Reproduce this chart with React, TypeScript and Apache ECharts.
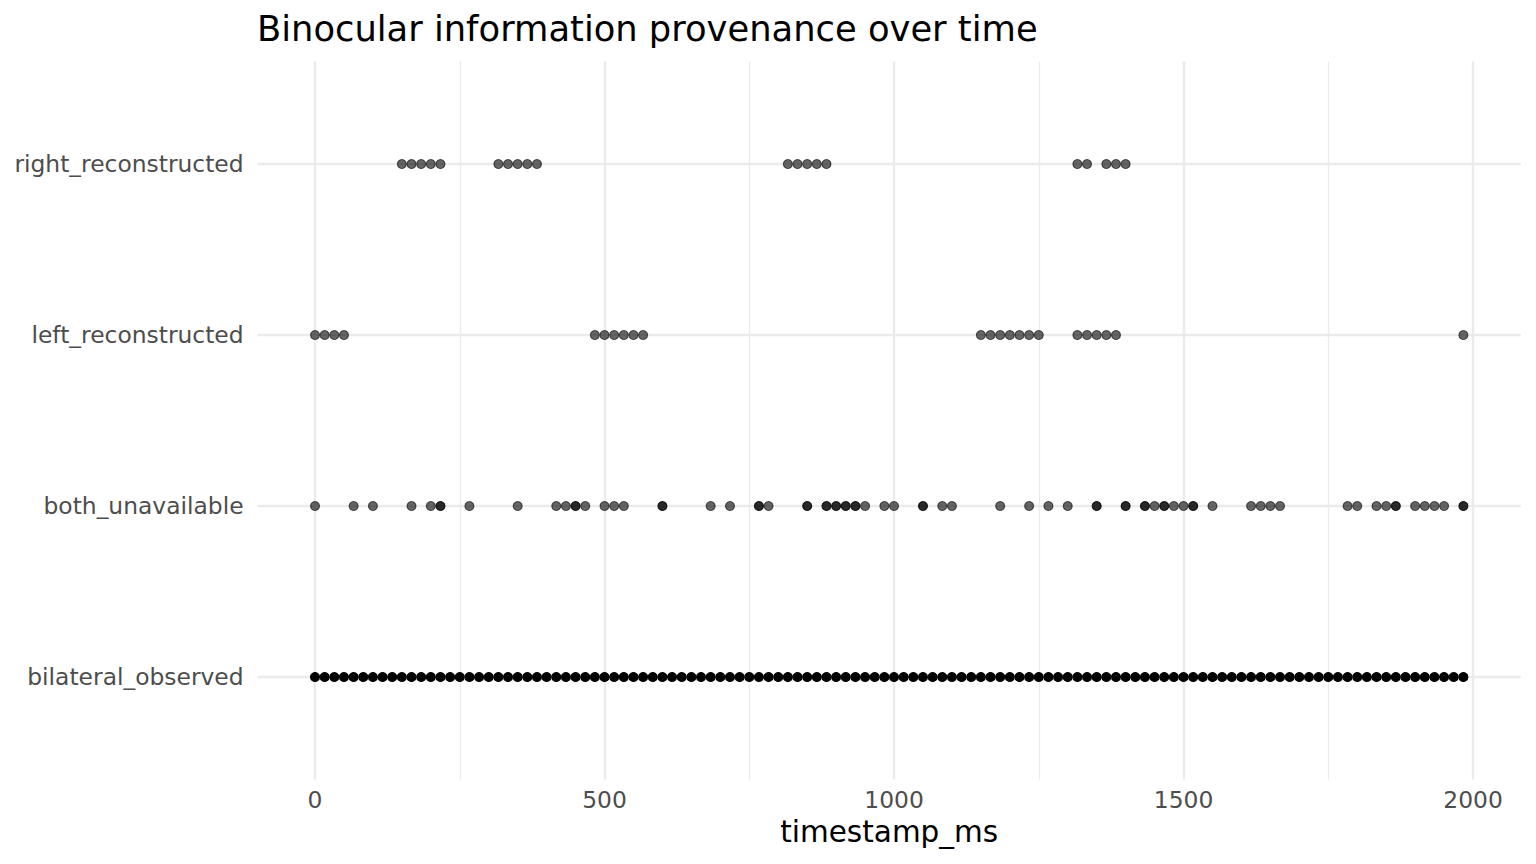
import React, { useEffect, useRef } from "react";
import * as echarts from "echarts";

// Frame duration (60 Hz sampling)
const FRAME_MS = 1000 / 60;

// Categories, bottom to top
const CATEGORIES = [
  "bilateral_observed",
  "both_unavailable",
  "left_reconstructed",
  "right_reconstructed",
];

// Frame indices per provenance class
const BILATERAL_FRAMES = [
  0, 1, 2, 3, 4, 5, 6, 7, 8, 9, 10, 11, 12, 13, 14, 15, 16, 17, 18, 19, 20, 21, 22, 23, 24,
  25, 26, 27, 28, 29, 30, 31, 32, 33, 34, 35, 36, 37, 38, 39, 40, 41, 42, 43, 44, 45, 46, 47,
  48, 49, 50, 51, 52, 53, 54, 55, 56, 57, 58, 59, 60, 61, 62, 63, 64, 65, 66, 67, 68, 69, 70,
  71, 72, 73, 74, 75, 76, 77, 78, 79, 80, 81, 82, 83, 84, 85, 86, 87, 88, 89, 90, 91, 92, 93,
  94, 95, 96, 97, 98, 99, 100, 101, 102, 103, 104, 105, 106, 107, 108, 109, 110, 111, 112,
  113, 114, 115, 116, 117, 118, 119,
];
const BILATERAL_COUNT = 8; // many overlapping observations per frame (appears solid black)

const BOTH_UNAVAILABLE_FRAMES = [
  0, 4, 6, 10, 12, 13, 16, 21, 25, 26, 27, 28, 30, 31, 32, 36, 41, 43, 46, 47, 51, 53, 54, 55,
  56, 57, 59, 60, 63, 65, 66, 71, 74, 76, 78, 81, 84, 86, 87, 88, 89, 90, 91, 93, 97, 98, 99,
  100, 107, 108, 110, 111, 112, 114, 115, 116, 117, 119,
];
const BOTH_UNAVAILABLE_COUNTS = [
  1, 1, 1, 1, 1, 2, 1, 1, 1, 1, 2, 1, 1, 1, 1, 2, 1, 1, 2, 1, 2, 2, 2, 2,
  2, 1, 1, 1, 2, 1, 1, 1, 1, 1, 1, 2, 2, 2, 1, 2, 1, 1, 2, 1, 1, 1, 1,
  1, 1, 1, 1, 1, 2, 1, 1, 1, 1, 2,
];

const LEFT_RECON_FRAMES = [
  0, 1, 2, 3, 29, 30, 31, 32, 33, 34, 69, 70, 71, 72, 73, 74, 75, 79, 80, 81, 82, 83, 119,
];

const RIGHT_RECON_FRAMES = [
  9, 10, 11, 12, 13, 19, 20, 21, 22, 23, 49, 50, 51, 52, 53, 79, 80, 82, 83, 84,
];

const X_MAJOR_TICKS = [0, 500, 1000, 1500, 2000];
const X_MINOR_TICKS = [250, 750, 1250, 1750];
const Y_TICKS = [1, 2, 3, 4];

const FONT = "DejaVu Sans";
const ALPHA = 0.6;

function pointsFor(frames: number[], yIndex: number, counts: number[] | number) {
  return frames.map((f, i) => {
    const n = Array.isArray(counts) ? counts[i] : counts;
    const a = 1 - Math.pow(1 - ALPHA, n);
    return {
      value: [f * FRAME_MS, yIndex + 1],
      itemStyle: {
        color: `rgba(0,0,0,${a.toFixed(3)})`,
        borderColor: `rgba(0,0,0,${a.toFixed(3)})`,
        opacity: 1,
      },
    };
  });
}

export default function App() {
  const ref = useRef<HTMLDivElement>(null);

  useEffect(() => {
    if (!ref.current) return;
    const chart = echarts.init(ref.current, null, { renderer: "svg" });

    const maxT = 119 * FRAME_MS;
    const pad = maxT * 0.05;
    const xMin = -pad;
    const xMax = maxT + pad;

    const scatterCommon = {
      type: "scatter",
      symbol: "circle",
      symbolSize: 9,
      z: 3,
      silent: true,
      itemStyle: { borderWidth: 1.1, opacity: 1 },
    };

    chart.setOption({
      animation: false,
      backgroundColor: "#ffffff",
      title: {
        text: "Binocular information provenance over time",
        left: 257,
        top: 11,
        padding: 0,
        textStyle: {
          fontFamily: FONT,
          fontSize: 35.3,
          fontWeight: "normal",
          color: "#000000",
        },
      },
      grid: {
        left: 257.6,
        right: 15.2,
        top: 61.4,
        bottom: 84.4,
        containLabel: false,
      },
      xAxis: [
        {
          type: "value",
          min: xMin,
          max: xMax,
          position: "bottom",
          name: "timestamp_ms",
          nameLocation: "middle",
          nameGap: 37,
          nameTextStyle: { fontFamily: FONT, fontSize: 29.5, color: "#000000" },
          axisLine: { show: false },
          axisTick: { show: false, customValues: X_MAJOR_TICKS },
          axisLabel: {
            customValues: X_MAJOR_TICKS,
            margin: 9,
            fontFamily: FONT,
            fontSize: 23.4,
            color: "#4d4d4d",
            formatter: (v: number) => String(Math.round(v)),
          },
          splitLine: { show: true, lineStyle: { color: "#ebebeb", width: 2.4 } },
        },
        {
          type: "value",
          min: xMin,
          max: xMax,
          position: "bottom",
          axisLine: { show: false },
          axisTick: { show: false, customValues: X_MINOR_TICKS },
          axisLabel: { show: false, customValues: X_MINOR_TICKS },
          splitLine: { show: true, lineStyle: { color: "#ebebeb", width: 1.3 } },
        },
      ],
      yAxis: {
        type: "value",
        min: 0.4,
        max: 4.6,
        axisLine: { show: false },
        axisTick: { show: false, customValues: Y_TICKS },
        axisLabel: {
          customValues: Y_TICKS,
          margin: 14,
          fontFamily: FONT,
          fontSize: 23.4,
          color: "#4d4d4d",
          formatter: (v: number) => CATEGORIES[Math.round(v) - 1] ?? "",
        },
        splitLine: { show: true, lineStyle: { color: "#ebebeb", width: 2.4 } },
      },
      series: [
        { ...scatterCommon, name: CATEGORIES[0], data: pointsFor(BILATERAL_FRAMES, 0, BILATERAL_COUNT) },
        {
          ...scatterCommon,
          name: CATEGORIES[1],
          data: pointsFor(BOTH_UNAVAILABLE_FRAMES, 1, BOTH_UNAVAILABLE_COUNTS),
        },
        { ...scatterCommon, name: CATEGORIES[2], data: pointsFor(LEFT_RECON_FRAMES, 2, 1) },
        { ...scatterCommon, name: CATEGORIES[3], data: pointsFor(RIGHT_RECON_FRAMES, 3, 1) },
      ],
    });

    return () => chart.dispose();
  }, []);

  return (
    <div
      ref={ref}
      style={{ position: "fixed", left: 0, top: 0, width: 1536, height: 864, background: "#fff" }}
    />
  );
}
